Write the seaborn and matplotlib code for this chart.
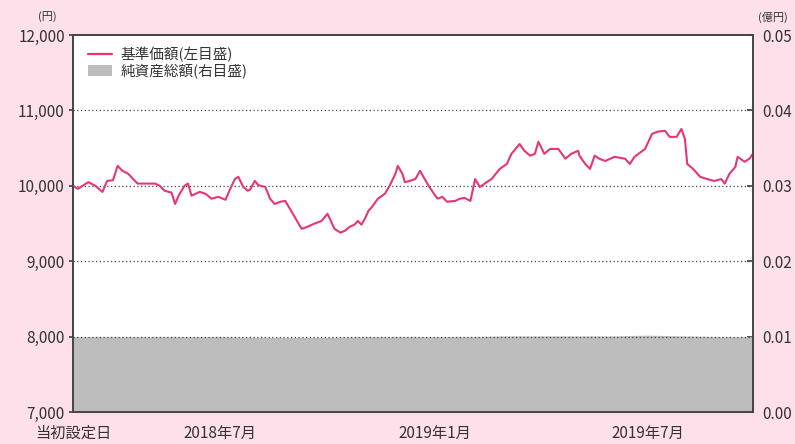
import matplotlib
matplotlib.use("Agg")
import matplotlib.pyplot as plt
from matplotlib.lines import Line2D
from matplotlib.patches import Patch
from matplotlib.ticker import FuncFormatter
import numpy as np
import pandas as pd
import seaborn as sns

# 基準価額 (円)
nav_dates = [
    "2018-02-26", "2018-03-02", "2018-03-11", "2018-03-17", "2018-03-23", "2018-03-27",
    "2018-04-01", "2018-04-05", "2018-04-09", "2018-04-14", "2018-04-22", "2018-04-27",
    "2018-05-07", "2018-05-11", "2018-05-15", "2018-05-21", "2018-05-24", "2018-05-27",
    "2018-06-01", "2018-06-04", "2018-06-07", "2018-06-14", "2018-06-19", "2018-06-24",
    "2018-06-30", "2018-07-06", "2018-07-10", "2018-07-14", "2018-07-17", "2018-07-21",
    "2018-07-25", "2018-07-27", "2018-07-31", "2018-08-03", "2018-08-09", "2018-08-13",
    "2018-08-17", "2018-08-22", "2018-08-26", "2018-08-30", "2018-09-05", "2018-09-09",
    "2018-09-14", "2018-09-20", "2018-09-26", "2018-10-01", "2018-10-03", "2018-10-07",
    "2018-10-12", "2018-10-16", "2018-10-20", "2018-10-24", "2018-10-27", "2018-10-30",
    "2018-11-02", "2018-11-05", "2018-11-08", "2018-11-13", "2018-11-19", "2018-11-23",
    "2018-11-28", "2018-11-30", "2018-12-04", "2018-12-06", "2018-12-10", "2018-12-15",
    "2018-12-19", "2018-12-23", "2018-12-27", "2019-01-01", "2019-01-03", "2019-01-07",
    "2019-01-11", "2019-01-18", "2019-01-22", "2019-01-26", "2019-01-31", "2019-02-04",
    "2019-02-08", "2019-02-14", "2019-02-18", "2019-02-25", "2019-03-03", "2019-03-07",
    "2019-03-14", "2019-03-18", "2019-03-23", "2019-03-27", "2019-03-30", "2019-04-02",
    "2019-04-04", "2019-04-09", "2019-04-16", "2019-04-22", "2019-04-27", "2019-05-03",
    "2019-05-04", "2019-05-09", "2019-05-13", "2019-05-17", "2019-05-21", "2019-05-26",
    "2019-06-03", "2019-06-12", "2019-06-16", "2019-06-20", "2019-06-29", "2019-07-05",
    "2019-07-10", "2019-07-16", "2019-07-20", "2019-07-26", "2019-07-30", "2019-08-02",
    "2019-08-04", "2019-08-09", "2019-08-15", "2019-08-21", "2019-08-27", "2019-09-02",
    "2019-09-05", "2019-09-09", "2019-09-14", "2019-09-16", "2019-09-22", "2019-09-26",
    "2019-09-29",
]
nav_values = [
    10000, 9960, 10050, 10000, 9920, 10065,
    10075, 10265, 10200, 10160, 10030, 10030,
    10030, 10000, 9935, 9910, 9760, 9870,
    10000, 10030, 9870, 9920, 9895, 9830,
    9855, 9815, 9960, 10090, 10120, 9990,
    9935, 9950, 10065, 10010, 9985, 9830,
    9760, 9790, 9800, 9695, 9535, 9430,
    9458, 9500, 9535, 9630, 9565, 9430,
    9380, 9405, 9458, 9485, 9535, 9485,
    9565, 9670, 9720, 9830, 9895, 10000,
    10160, 10265, 10160, 10050, 10065, 10090,
    10200, 10090, 9985, 9870, 9830, 9855,
    9790, 9800, 9830, 9840, 9800, 10090,
    9985, 10050, 10090, 10225, 10290, 10425,
    10555, 10465, 10400, 10425, 10585, 10490,
    10425, 10490, 10490, 10360, 10425, 10465,
    10400, 10290, 10225, 10400, 10360, 10330,
    10385, 10360, 10290, 10385, 10490, 10690,
    10720, 10730, 10650, 10650, 10755, 10625,
    10290, 10225, 10120, 10090, 10065, 10090,
    10030, 10160, 10250, 10385, 10320, 10360,
    10425,
]

# 純資産総額 (億円)
aum_dates = [
    "2018-02-26", "2018-04-01", "2018-05-01", "2018-06-01", "2018-07-01", "2018-08-01",
    "2018-09-01", "2018-10-01", "2018-11-01", "2018-12-01", "2019-01-01", "2019-02-01",
    "2019-03-01", "2019-04-01", "2019-05-01", "2019-06-01", "2019-07-01", "2019-08-01",
    "2019-09-01", "2019-09-29",
]
aum_values = [
    0.0100, 0.0100, 0.0100, 0.0100, 0.0100, 0.0099,
    0.0099, 0.0099, 0.0100, 0.0100, 0.0100, 0.0100,
    0.0101, 0.0101, 0.0101, 0.0101, 0.0102, 0.0101,
    0.0100, 0.0100,
]

tick_dates = ["2018-02-26", "2018-07-01", "2019-01-01", "2019-07-01"]
tick_labels = ["当初設定日", "2018年7月", "2019年1月", "2019年7月"]

nav = pd.DataFrame({"date": pd.to_datetime(nav_dates), "nav": nav_values})
aum = pd.DataFrame({"date": pd.to_datetime(aum_dates), "aum": aum_values})

sns.set_theme(style="white")
plt.rcParams["font.family"] = ["Noto Sans CJK JP", "DejaVu Sans"]

pink = "#e5357b"
grey = "#bdbdbd"
txt = "#333333"
edge = "#444444"

fig = plt.figure(figsize=(7.95, 4.44), dpi=100)
fig.patch.set_facecolor("#fde0ea")
ax = fig.add_axes([0.092, 0.072, 0.855, 0.849])
ax2 = ax.twinx()

# net assets as grey area on the right axis, white plot background
ax2.patch.set_visible(True)
ax2.set_facecolor("white")
ax2.fill_between(aum["date"], 0, aum["aum"], color=grey, linewidth=0)
ax2.set_ylim(0, 0.05)
ax2.set_yticks(np.arange(0, 0.051, 0.01))
ax2.yaxis.set_major_formatter(FuncFormatter(lambda v, p: f"{v:.2f}"))

# NAV line on top
ax.set_zorder(ax2.get_zorder() + 1)
ax.patch.set_visible(False)
sns.lineplot(data=nav, x="date", y="nav", ax=ax, color=pink, linewidth=1.5)
ax.set_ylim(7000, 12000)
ax.set_yticks(range(7000, 12001, 1000))
ax.yaxis.set_major_formatter(FuncFormatter(lambda v, p: f"{int(v):,}"))
for lv in range(8000, 12000, 1000):
    ax.axhline(lv, color=edge, linestyle=(0, (1, 2)), linewidth=0.9, zorder=0)

ax.set_xlim(pd.Timestamp("2018-02-26"), pd.Timestamp("2019-09-29"))
ax.set_xticks(pd.to_datetime(tick_dates))
ax.set_xticklabels(tick_labels)
ax.set_xlabel("")
ax.set_ylabel("")

for a in (ax, ax2):
    for s in a.spines.values():
        s.set_color(edge)
        s.set_linewidth(1.2)
ax.tick_params(axis="x", direction="in", length=4, color=edge,
               labelsize=11, labelcolor=txt, pad=9)
ax.tick_params(axis="y", direction="out", length=3, color=edge,
               labelsize=11, labelcolor=txt, pad=3)
ax2.tick_params(axis="y", direction="in", length=4, color=edge,
                labelsize=11, labelcolor=txt, pad=7)
ax.xaxis.get_major_ticks()[0].tick1line.set_visible(False)

fig.text(0.06, 0.962, "(円)", ha="center", va="center", fontsize=8, color=txt)
fig.text(0.972, 0.962, "(億円)", ha="center", va="center", fontsize=8, color=txt)

handles = [Line2D([0], [0], color=pink, linewidth=1.6),
           Patch(facecolor=grey, edgecolor="none")]
ax.legend(handles, ["基準価額(左目盛)", "純資産総額(右目盛)"], loc="upper left",
          bbox_to_anchor=(0.005, 1.0), frameon=False, fontsize=10.5,
          handlelength=1.6, handleheight=0.8, labelspacing=0.1, borderpad=0.3,
          handletextpad=0.6, labelcolor=txt)

fig.savefig("out.png", dpi=100, facecolor=fig.get_facecolor())
